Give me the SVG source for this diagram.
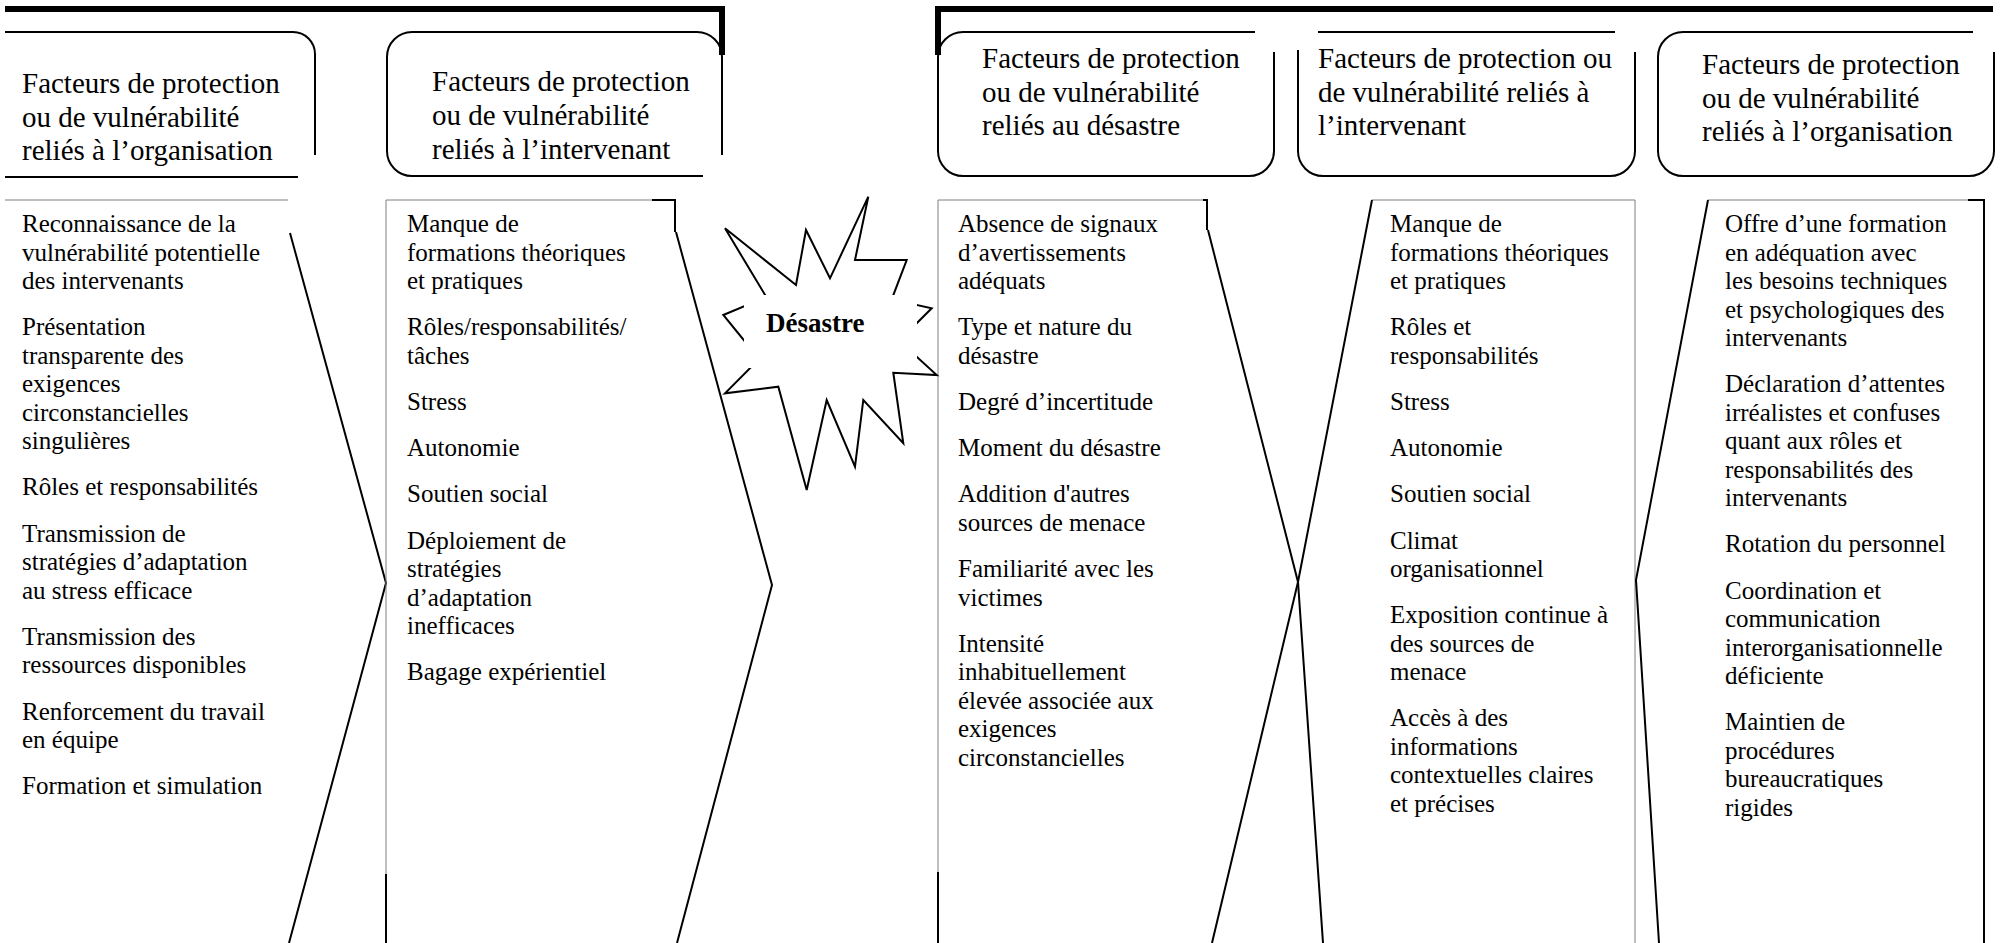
<svg xmlns="http://www.w3.org/2000/svg" width="2002" height="943" viewBox="0 0 2002 943">
<style>
.thick{fill:none;stroke:#000;stroke-width:6}
.hdr{fill:none;stroke:#000;stroke-width:2}
.thin{fill:none;stroke:#7f7f7f;stroke-width:1}
.blk{fill:none;stroke:#000;stroke-width:2}
.ht{font-family:"Liberation Serif","Times New Roman",serif;font-size:29px;fill:#000}
.bt{font-family:"Liberation Serif","Times New Roman",serif;font-size:25px;fill:#000}
.st{font-family:"Liberation Serif","Times New Roman",serif;font-size:27px;font-weight:bold;fill:#000}
</style>
<rect width="2002" height="943" fill="#fff"/>
<g id="connectors">
<path class="thick" d="M5,9 H722 V55"/>
<path class="thick" d="M938,55 V9 H1993"/>
<path class="thin" d="M5,200 H288"/>
<path class="blk" d="M290,233 L386,583 L289,943"/>
<path class="thin" d="M386,200 V874 M386,200 H652"/>
<path class="blk" d="M386,874 V943 M652,200 H675 V232"/>
<path class="blk" d="M676,232 L772,585 L677,943"/>
<path class="thin" d="M938,200 V872 M938,200 H1204"/>
<path class="blk" d="M938,872 V943 M1203,200 H1207 V230"/>
<path class="blk" d="M1208,230 L1298,582 L1323,943"/>
<path class="thin" d="M1372,200 H1635 V943"/>
<path class="blk" d="M1372,200 L1298,582 L1212,943"/>
<path class="thin" d="M1708,200 H1968"/>
<path class="blk" d="M1968,200 H1984 V943"/>
<path class="blk" d="M1708,200 L1636,580 L1659,943"/>
</g>
<g id="h1">
<path class="hdr" d="M5,32 H293 A22,22 0 0 1 315,54 V155 M5,177 H298"/>
<text class="ht"><tspan x="22" y="93">Facteurs de protection</tspan><tspan x="22" y="126.5">ou de vulnérabilité</tspan><tspan x="22" y="160">reliés à l’organisation</tspan></text>
</g>
<g id="h2">
<path class="hdr" d="M703,176 H412 A25,25 0 0 1 387,151 V57 A25,25 0 0 1 412,32 H697 A25,25 0 0 1 722,57 V155"/>
<text class="ht"><tspan x="432" y="91">Facteurs de protection</tspan><tspan x="432" y="125">ou de vulnérabilité</tspan><tspan x="432" y="159">reliés à l’intervenant</tspan></text>
</g>
<g id="h3">
<path class="hdr" d="M1255,32 H963 A25,25 0 0 0 938,57 V151 A25,25 0 0 0 963,176 H1249 A25,25 0 0 0 1274,151 V52"/>
<text class="ht"><tspan x="982" y="68">Facteurs de protection</tspan><tspan x="982" y="102">ou de vulnérabilité</tspan><tspan x="982" y="135">reliés au désastre</tspan></text>
</g>
<g id="h4">
<path class="hdr" d="M1318,32 H1615 M1298,50 V151 A25,25 0 0 0 1323,176 H1610 A25,25 0 0 0 1635,151 V52"/>
<text class="ht"><tspan x="1318" y="68">Facteurs de protection ou</tspan><tspan x="1318" y="102">de vulnérabilité reliés à</tspan><tspan x="1318" y="135">l’intervenant</tspan></text>
</g>
<g id="h5">
<path class="hdr" d="M1973,32 H1683 A25,25 0 0 0 1658,57 V151 A25,25 0 0 0 1683,176 H1969 A25,25 0 0 0 1994,151 V52"/>
<text class="ht"><tspan x="1702" y="74">Facteurs de protection</tspan><tspan x="1702" y="108">ou de vulnérabilité</tspan><tspan x="1702" y="141">reliés à l’organisation</tspan></text>
</g>
<g id="star">
<polygon points="725,228.3 796,285 806,230 830,278.3 868.3,196.7 855,260 906.7,260 891.7,299.4 931.7,308.3 899.2,340.8 936.7,375 893.3,372.7 903.3,443.3 863.3,400 855,466.7 826.7,400 806.7,490 778.3,386.7 725,393.3 759.2,359 723.3,315 766.3,297" fill="#fff" stroke="#000" stroke-width="2"/>
<rect x="744" y="295" width="173" height="73" fill="#fff"/>
<text class="st" x="766" y="332">Désastre</text>
</g>
<g id="c1">
<text class="bt"><tspan x="22" y="232">Reconnaissance de la</tspan><tspan x="22" y="260.5">vulnérabilité potentielle</tspan><tspan x="22" y="289">des intervenants</tspan><tspan x="22" y="335.2">Présentation</tspan><tspan x="22" y="363.7">transparente des</tspan><tspan x="22" y="392.2">exigences</tspan><tspan x="22" y="420.7">circonstancielles</tspan><tspan x="22" y="449.2">singulières</tspan><tspan x="22" y="495.4">Rôles et responsabilités</tspan><tspan x="22" y="541.6">Transmission de</tspan><tspan x="22" y="570.1">stratégies d’adaptation</tspan><tspan x="22" y="598.6">au stress efficace</tspan><tspan x="22" y="644.8">Transmission des</tspan><tspan x="22" y="673.3">ressources disponibles</tspan><tspan x="22" y="719.5">Renforcement du travail</tspan><tspan x="22" y="748">en équipe</tspan><tspan x="22" y="794.2">Formation et simulation</tspan></text>
</g>
<g id="c2">
<text class="bt"><tspan x="407" y="232">Manque de</tspan><tspan x="407" y="260.5">formations théoriques</tspan><tspan x="407" y="289">et pratiques</tspan><tspan x="407" y="335.2">Rôles/responsabilités/</tspan><tspan x="407" y="363.7">tâches</tspan><tspan x="407" y="409.9">Stress</tspan><tspan x="407" y="456.1">Autonomie</tspan><tspan x="407" y="502.3">Soutien social</tspan><tspan x="407" y="548.5">Déploiement de</tspan><tspan x="407" y="577">stratégies</tspan><tspan x="407" y="605.5">d’adaptation</tspan><tspan x="407" y="634">inefficaces</tspan><tspan x="407" y="680.2">Bagage expérientiel</tspan></text>
</g>
<g id="c3">
<text class="bt"><tspan x="958" y="232">Absence de signaux</tspan><tspan x="958" y="260.5">d’avertissements</tspan><tspan x="958" y="289">adéquats</tspan><tspan x="958" y="335.2">Type et nature du</tspan><tspan x="958" y="363.7">désastre</tspan><tspan x="958" y="409.9">Degré d’incertitude</tspan><tspan x="958" y="456.1">Moment du désastre</tspan><tspan x="958" y="502.3">Addition d'autres</tspan><tspan x="958" y="530.8">sources de menace</tspan><tspan x="958" y="577">Familiarité avec les</tspan><tspan x="958" y="605.5">victimes</tspan><tspan x="958" y="651.7">Intensité</tspan><tspan x="958" y="680.2">inhabituellement</tspan><tspan x="958" y="708.7">élevée associée aux</tspan><tspan x="958" y="737.2">exigences</tspan><tspan x="958" y="765.7">circonstancielles</tspan></text>
</g>
<g id="c4">
<text class="bt"><tspan x="1390" y="232">Manque de</tspan><tspan x="1390" y="260.5">formations théoriques</tspan><tspan x="1390" y="289">et pratiques</tspan><tspan x="1390" y="335.2">Rôles et</tspan><tspan x="1390" y="363.7">responsabilités</tspan><tspan x="1390" y="409.9">Stress</tspan><tspan x="1390" y="456.1">Autonomie</tspan><tspan x="1390" y="502.3">Soutien social</tspan><tspan x="1390" y="548.5">Climat</tspan><tspan x="1390" y="577">organisationnel</tspan><tspan x="1390" y="623.2">Exposition continue à</tspan><tspan x="1390" y="651.7">des sources de</tspan><tspan x="1390" y="680.2">menace</tspan><tspan x="1390" y="726.4">Accès à des</tspan><tspan x="1390" y="754.9">informations</tspan><tspan x="1390" y="783.4">contextuelles claires</tspan><tspan x="1390" y="811.9">et précises</tspan></text>
</g>
<g id="c5">
<text class="bt"><tspan x="1725" y="232">Offre d’une formation</tspan><tspan x="1725" y="260.5">en adéquation avec</tspan><tspan x="1725" y="289">les besoins techniques</tspan><tspan x="1725" y="317.5">et psychologiques des</tspan><tspan x="1725" y="346">intervenants</tspan><tspan x="1725" y="392.2">Déclaration d’attentes</tspan><tspan x="1725" y="420.7">irréalistes et confuses</tspan><tspan x="1725" y="449.2">quant aux rôles et</tspan><tspan x="1725" y="477.7">responsabilités des</tspan><tspan x="1725" y="506.2">intervenants</tspan><tspan x="1725" y="552.4">Rotation du personnel</tspan><tspan x="1725" y="598.6">Coordination et</tspan><tspan x="1725" y="627.1">communication</tspan><tspan x="1725" y="655.6">interorganisationnelle</tspan><tspan x="1725" y="684.1">déficiente</tspan><tspan x="1725" y="730.3">Maintien de</tspan><tspan x="1725" y="758.8">procédures</tspan><tspan x="1725" y="787.3">bureaucratiques</tspan><tspan x="1725" y="815.8">rigides</tspan></text>
</g>
</svg>
